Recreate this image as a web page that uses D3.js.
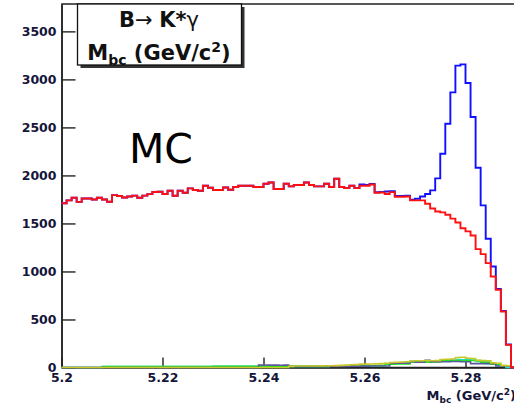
<!DOCTYPE html>
<html lang="en">
<head>
<meta charset="UTF-8" />
<title>B to K* gamma, Mbc</title>
<script src="https://d3js.org/d3.v7.min.js"></script>
<style>
  body { margin: 0; background: #fff; }
  svg text { font-family: "DejaVu Sans", sans-serif; }
</style>
</head>
<body>
<div id="chart"></div>
<script>
// histogram binning: 90 bins of 1 MeV from 5.2 GeV
const binLow = 5.2;
const binWidth = 0.001;
const xTicks = [5.2, 5.22, 5.24, 5.26, 5.28];
const yTicks = [0, 500, 1000, 1500, 2000, 2500, 3000, 3500];

// background (red) and total (blue) counts per bin
const redCounts = [
  1710, 1740, 1768, 1725, 1760, 1760, 1750, 1768, 1750, 1726,
  1795, 1785, 1770, 1780, 1790, 1768, 1790, 1805, 1828, 1830,
  1806, 1840, 1788, 1840, 1820, 1865, 1848, 1840, 1893, 1872,
  1848, 1848, 1875, 1851, 1879, 1893, 1893, 1893, 1879, 1879,
  1914, 1927, 1858, 1858, 1914, 1886, 1900, 1900, 1927, 1900,
  1886, 1886, 1914, 1879, 1966, 1879, 1868, 1893, 1868, 1893,
  1893, 1905, 1820, 1823, 1807, 1826, 1778, 1778, 1781, 1740,
  1740, 1740, 1705, 1656, 1625, 1615, 1590, 1550, 1510, 1450,
  1417, 1375, 1233, 1181, 1087, 948, 809, 583, 236, 0
];
const blueCounts = [
  1710, 1740, 1768, 1725, 1760, 1760, 1750, 1768, 1750, 1726,
  1795, 1785, 1770, 1780, 1790, 1768, 1790, 1805, 1828, 1830,
  1806, 1840, 1788, 1840, 1820, 1865, 1848, 1840, 1893, 1872,
  1848, 1848, 1875, 1851, 1879, 1893, 1893, 1893, 1879, 1879,
  1914, 1927, 1858, 1858, 1914, 1886, 1900, 1900, 1927, 1900,
  1886, 1886, 1914, 1879, 1966, 1879, 1868, 1893, 1868, 1905,
  1900, 1910, 1825, 1828, 1832, 1836, 1785, 1785, 1790, 1747,
  1757, 1781, 1806, 1844, 1969, 2226, 2538, 2865, 3143, 3156,
  2962, 2608, 2080, 1688, 1340, 1052, 817, 590, 240, 0
];

// small components near zero
const yellowCounts = [
  0, 0, 0, 0, 0, 0, 0, 0, 0, 0,
  0, 0, 0, 0, 0, 0, 0, 0, 0, 0,
  0, 0, 0, 0, 0, 0, 0, 0, 0, 0,
  0, 0, 0, 0, 0, 0, 0, 0, 0, 0,
  0, 0, 0, 0, 0, 12, 15, 15, 16, 15,
  15, 17, 15, 18, 20, 22, 25, 28, 30, 35,
  35, 36, 38, 40, 45, 52, 55, 58, 60, 68,
  70, 70, 72, 70, 72, 84, 86, 88, 104, 106,
  96, 94, 74, 72, 70, 48, 44, 22, 18, 0
];
const cyanCounts = [
  0, 0, 0, 0, 0, 0, 0, 0, 10, 10,
  10, 10, 10, 10, 10, 10, 10, 10, 10, 10,
  10, 10, 10, 10, 10, 10, 10, 10, 10, 10,
  12, 12, 12, 12, 12, 12, 12, 12, 12, 12,
  12, 12, 12, 12, 12, 12, 12, 12, 12, 12,
  12, 12, 12, 15, 15, 15, 15, 15, 15, 16,
  16, 16, 18, 20, 40, 42, 42, 44, 44, 62,
  62, 62, 64, 64, 64, 80, 80, 82, 82, 80,
  80, 78, 64, 62, 40, 40, 20, 18, 0, 0
];
// green histogram starts at bin 8
const greenFirstBin = 8;
const greenCounts = [
  10, 10,
  10, 10, 10, 10, 10, 10, 10, 10, 10, 10,
  10, 10, 10, 10, 10, 10, 10, 10, 10, 10,
  12, 12, 12, 12, 12, 12, 12, 12, 12, 12,
  12, 12, 12, 12, 12, 12, 12, 12, 12, 12,
  12, 12, 12, 15, 15, 15, 15, 15, 15, 16,
  16, 16, 18, 20, 35, 35, 36, 36, 36, 56,
  56, 56, 56, 58, 58, 70, 70, 70, 73, 73,
  73, 73, 72, 56, 56, 35, 35, 15, 15, 0
];
const navyCounts = [
  0, 0, 0, 0, 0, 0, 0, 0, 0, 0,
  0, 0, 0, 0, 0, 0, 0, 0, 0, 0,
  0, 0, 0, 0, 0, 0, 0, 0, 0, 0,
  0, 0, 0, 0, 0, 0, 0, 0, 0, 25,
  26, 25, 25, 24, 25, 10, 10, 10, 10, 10,
  10, 10, 12, 12, 12, 12, 12, 14, 14, 14,
  14, 15, 15, 15, 15, 45, 45, 46, 46, 63,
  55, 55, 76, 60, 60, 60, 60, 62, 62, 60,
  60, 40, 40, 40, 40, 40, 15, 15, 15, 0
];

const width = 514;
const height = 405;

const svg = d3.select("#chart").append("svg")
  .attr("width", width)
  .attr("height", height);

const x = d3.scaleLinear().domain([5.2, 5.29]).range([61.5, 516]);
const y = d3.scaleLinear().domain([0, 3785]).range([367.5, 4]);

// frame
svg.append("rect")
  .attr("x", x(5.2) + 0.5).attr("y", y(3785))
  .attr("width", x(5.29) - x(5.2)).attr("height", y(0) - y(3785))
  .attr("fill", "none").attr("stroke", "#222").attr("stroke-width", 1.5);

// y axis, ticks inside
const yAxis = svg.append("g").attr("transform", `translate(${x(5.2)},0)`);
yAxis.call(d3.axisLeft(y).tickValues(d3.range(0, 3785, 100)).tickSize(-7).tickSizeOuter(0).tickFormat(""));
yAxis.call(d3.axisLeft(y).tickValues(yTicks).tickSize(-14).tickSizeOuter(0).tickPadding(5).tickFormat(d3.format("d")));

// x axis, ticks pointing up
const xAxis = svg.append("g").attr("transform", `translate(0,${y(0)})`);
xAxis.call(d3.axisBottom(x).tickValues(d3.range(5.2, 5.2901, 0.005)).tickSize(-5).tickSizeOuter(0).tickFormat(""));
xAxis.call(d3.axisBottom(x).tickValues(xTicks).tickSize(-10).tickSizeOuter(0).tickPadding(6).tickFormat(d => String(d)));

svg.selectAll(".domain").attr("stroke", "#222").attr("stroke-width", 1.5);
svg.selectAll(".tick line").attr("stroke", "#222").attr("stroke-width", 1.4);
svg.selectAll(".tick text")
  .attr("font-family", "DejaVu Sans")
  .attr("font-weight", "bold")
  .attr("font-size", 12.5)
  .attr("fill", "#15153a");

// histograms
function histPath(counts, first = 0) {
  const pts = counts.map((c, i) => [binLow + (first + i) * binWidth, c]);
  pts.push([binLow + (first + counts.length) * binWidth, counts[counts.length - 1]]);
  return d3.line()
    .x(d => x(d[0]))
    .y(d => y(d[1]))
    .curve(d3.curveStepAfter)(pts);
}

const series = [
  { counts: cyanCounts, first: 0, color: "#22dcdc", w: 1.6 },
  { counts: greenCounts, first: greenFirstBin, color: "#1ee61e", w: 1.6 },
  { counts: navyCounts, first: 0, color: "#5a5a9a", w: 1.6 },
  { counts: yellowCounts, first: 0, color: "#c8c828", w: 1.6 },
  { counts: blueCounts, first: 0, color: "#1010ff", w: 1.9 },
  { counts: redCounts, first: 0, color: "#ff1010", w: 1.9 }
];

svg.append("g").selectAll("path")
  .data(series)
  .join("path")
  .attr("d", d => histPath(d.counts, d.first))
  .attr("fill", "none")
  .attr("stroke", d => d.color)
  .attr("stroke-width", d => d.w);

// title box with shadow
svg.append("rect")
  .attr("x", 80.5).attr("y", 7).attr("width", 164).attr("height", 61)
  .attr("fill", "#333");
svg.append("rect")
  .attr("x", 77.5).attr("y", 4).attr("width", 164).attr("height", 61)
  .attr("fill", "#fff").attr("stroke", "#111").attr("stroke-width", 1.3);

const t1 = svg.append("text")
  .attr("x", 159).attr("y", 27)
  .attr("text-anchor", "middle")
  .attr("font-weight", "bold")
  .attr("font-size", 21)
  .attr("fill", "#111");
t1.append("tspan").text("B");
t1.append("tspan").attr("font-weight", "normal").text("\u2192 ");
t1.append("tspan").text("K*");
t1.append("tspan").attr("font-weight", "normal").text("\u03b3");

const t2 = svg.append("text")
  .attr("x", 159).attr("y", 60)
  .attr("text-anchor", "middle")
  .attr("font-weight", "bold")
  .attr("font-size", 21)
  .attr("fill", "#111");
t2.append("tspan").text("M");
t2.append("tspan").attr("font-size", 14).attr("dy", 5).text("bc");
t2.append("tspan").attr("dy", -5).text(" (GeV/c");
t2.append("tspan").attr("font-size", 14).attr("dy", -8).text("2");
t2.append("tspan").attr("dy", 8).text(")");

// x axis title
const xt = svg.append("text")
  .attr("x", 516).attr("y", 400)
  .attr("text-anchor", "end")
  .attr("font-weight", "bold")
  .attr("font-size", 13)
  .attr("fill", "#15153a");
xt.append("tspan").text("M");
xt.append("tspan").attr("font-size", 9).attr("dy", 3).text("bc");
xt.append("tspan").attr("dy", -3).text(" (GeV/c");
xt.append("tspan").attr("font-size", 9).attr("dy", -5).text("2");
xt.append("tspan").attr("dy", 5).text(")");

// annotation
svg.append("text")
  .attr("x", 129).attr("y", 163)
  .attr("font-family", "Open Sans, sans-serif")
  .attr("font-size", 41)
  .attr("fill", "#000")
  .text("MC");
</script>
</body>
</html>
